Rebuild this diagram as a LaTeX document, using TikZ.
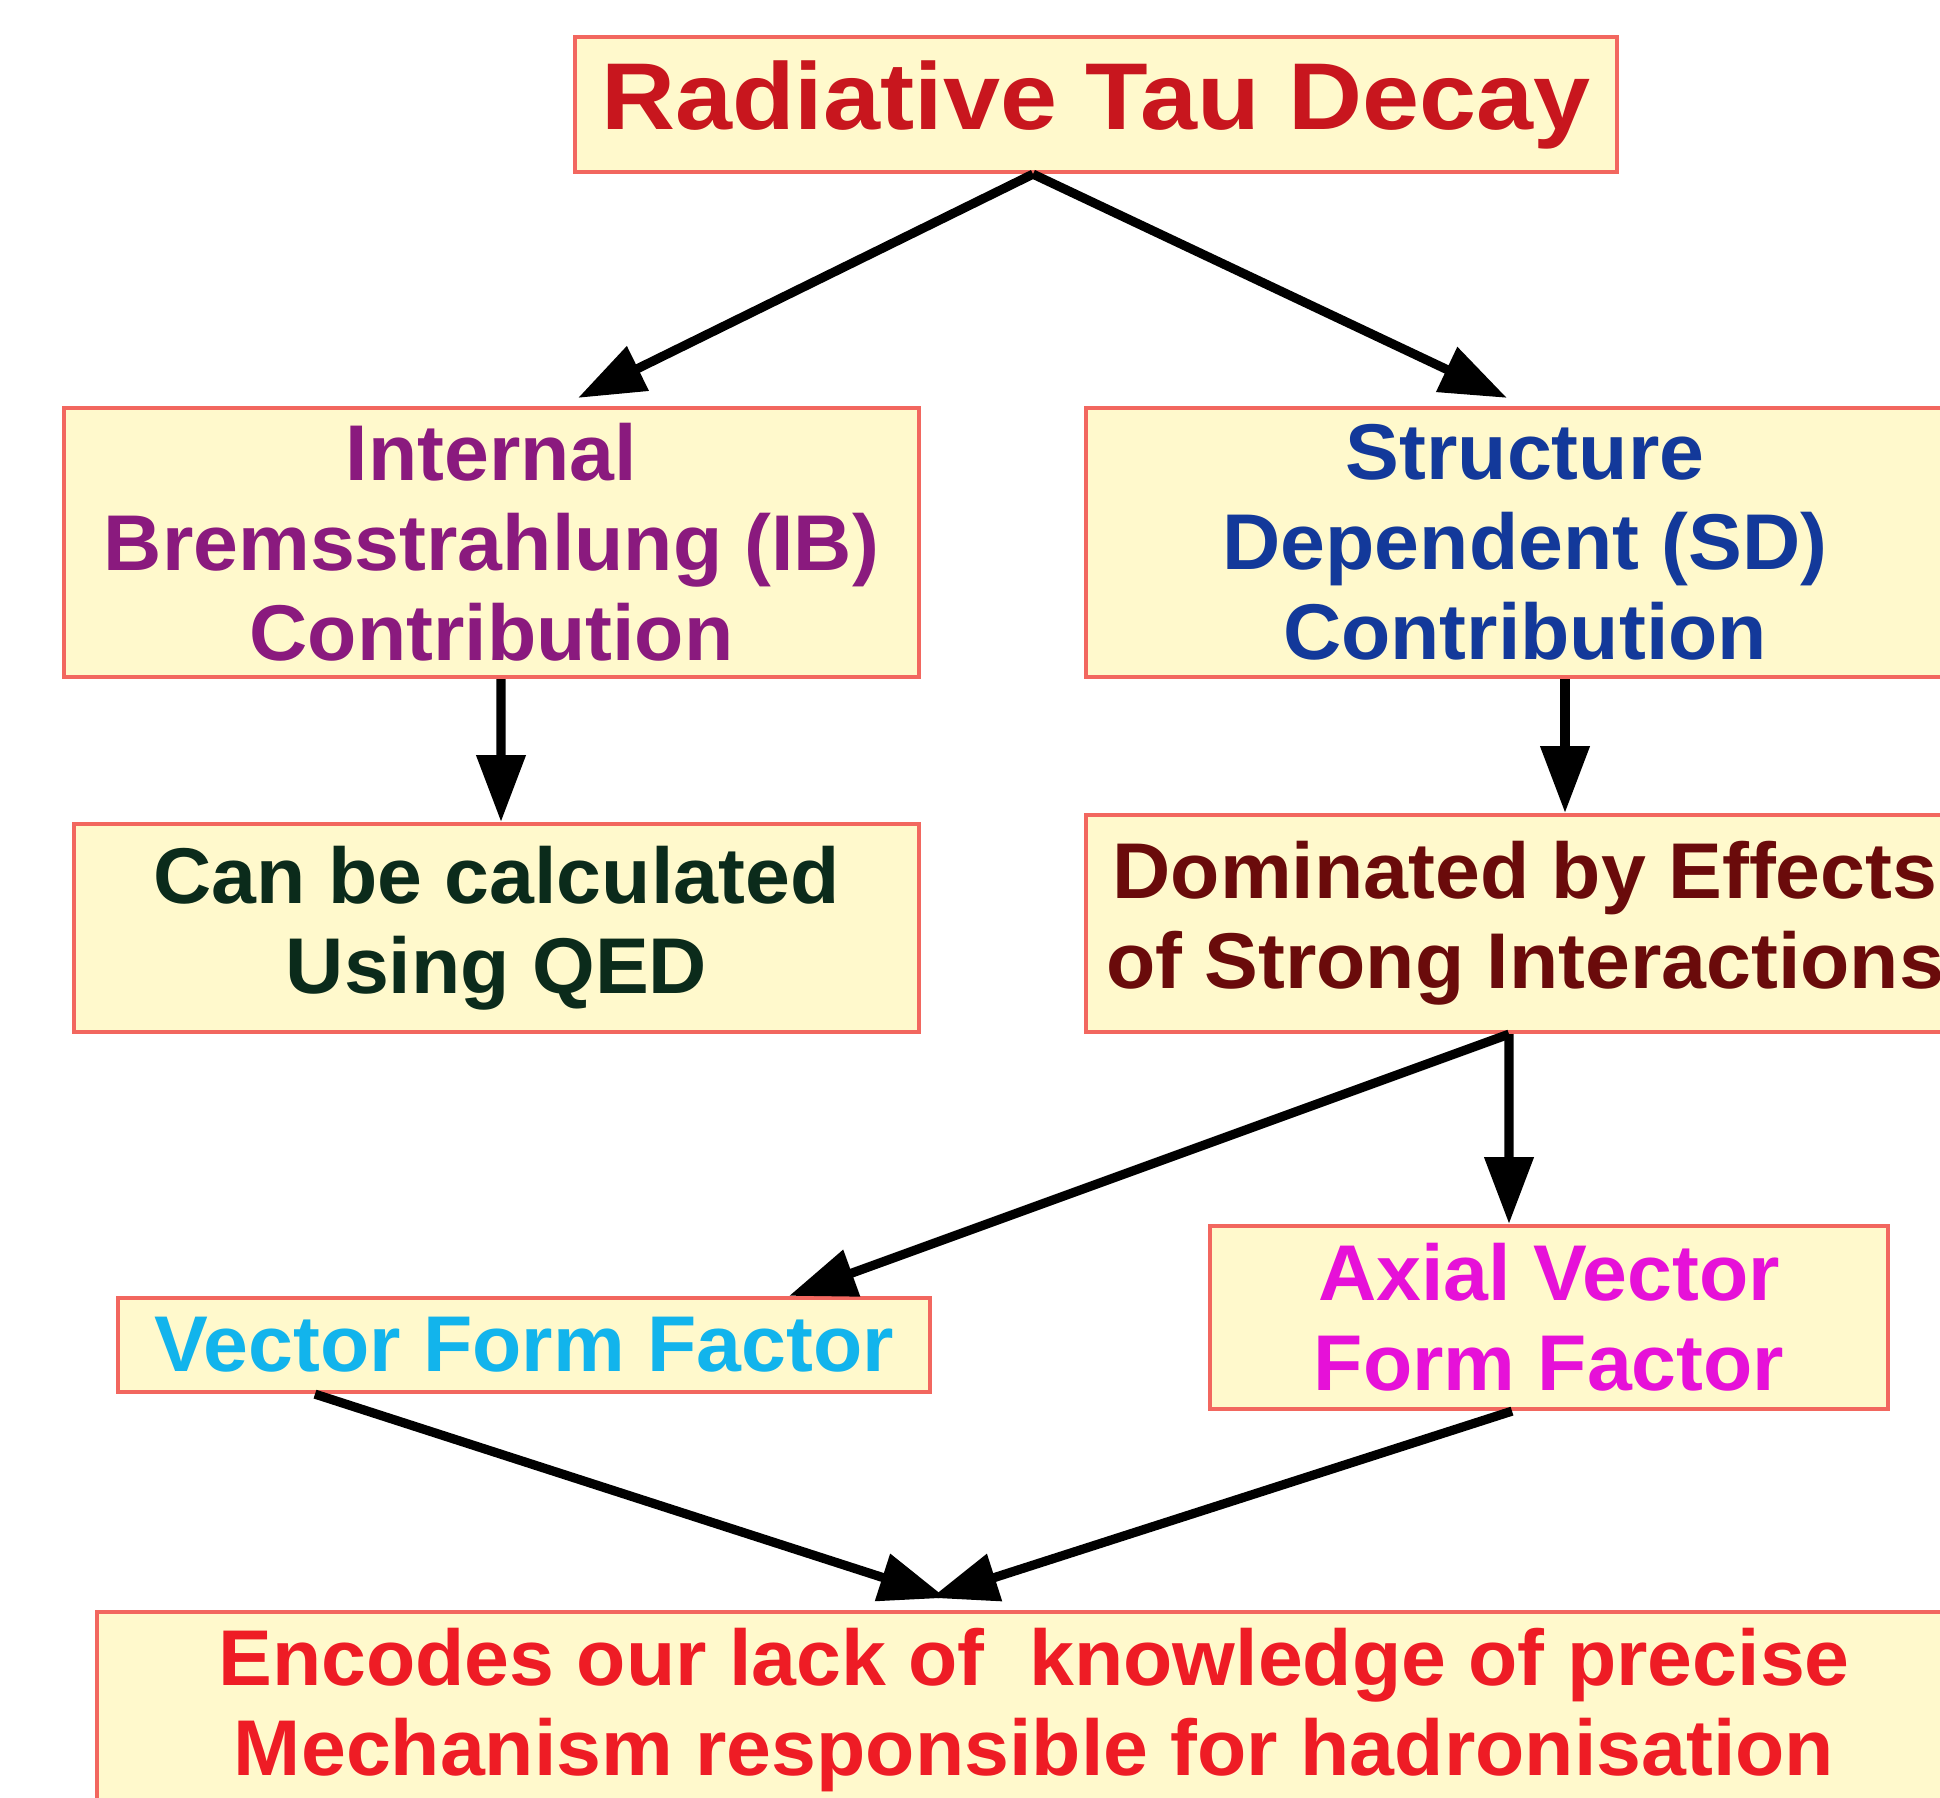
\documentclass[tikz,border=0pt]{standalone}
\usepackage{fontspec}
\setmainfont[FakeStretch=1.02]{Liberation Sans}
\newfontfamily\titlefont[FakeStretch=1.08]{Liberation Sans}
\usetikzlibrary{arrows.meta}

\definecolor{boxfill}{HTML}{FFF9CC}
\definecolor{boxline}{HTML}{F2675F}
\definecolor{titlered}{HTML}{C8161E}
\definecolor{ibpurple}{HTML}{8A1A7E}
\definecolor{sdblue}{HTML}{13399A}
\definecolor{qedgreen}{HTML}{0B2B1B}
\definecolor{strongred}{HTML}{6A0B0B}
\definecolor{vffcyan}{HTML}{12B4EC}
\definecolor{avffmagenta}{HTML}{E611D8}
\definecolor{encred}{HTML}{EE1C25}

\begin{document}
\begin{tikzpicture}[
  box/.style={draw=boxline, fill=boxfill, line width=1.2pt, inner sep=0pt, align=center,
    font={\bfseries\fontsize{22.5}{25.6}\selectfont}},
  flow/.style={line width=2.6pt, -{Triangle[length=19pt,width=13.5pt]}}
]
% page frame
\useasboundingbox (0,0) rectangle (19.40,-17.97);

% Title
\node[box, minimum width=10.42cm, minimum height=1.35cm, text=titlered,
  font={\titlefont\bfseries\fontsize{27}{30}\selectfont}] (tau) at (10.96,-1.045) {Radiative Tau Decay};

% Two contributions
\node[box, minimum width=8.55cm, minimum height=2.69cm, text=ibpurple] (ib) at (4.915,-5.425)
  {Internal\\Bremsstrahlung (IB)\\Contribution};
\node[box, minimum width=8.78cm, minimum height=2.69cm, text=sdblue] (sd) at (15.25,-5.425)
  {Structure\\Dependent (SD)\\Contribution};

% What follows from each
\node[box, minimum width=8.45cm, minimum height=2.08cm, text=qedgreen] (qed) at (4.965,-9.28)
  {Can be calculated\\Using QED};
\node[box, minimum width=8.78cm, minimum height=2.17cm, text=strongred] (strong) at (15.25,-9.235)
  {Dominated by Effects\\of Strong Interactions};

% Form factors
\node[box, minimum width=8.12cm, minimum height=0.94cm, text=vffcyan] (vff) at (5.24,-13.45)
  {Vector Form Factor};
\node[box, minimum width=6.78cm, minimum height=1.83cm, text=avffmagenta] (avff) at (15.49,-13.175)
  {Axial Vector\\Form Factor};

% Bottom line
\node[box, minimum width=18.74cm, minimum height=1.96cm, text=encred] (enc) at (10.34,-17.10)
  {Encodes our lack of\ \ knowledge of precise\\Mechanism responsible for hadronisation};

% Arrows
\draw[flow] ([xshift=-0.63cm]tau.south) -- ([xshift=0.865cm,yshift=0.08cm]ib.north);
\draw[flow] ([xshift=-0.63cm]tau.south) -- ([xshift=-0.18cm,yshift=0.08cm]sd.north);
\draw[flow] ([xshift=0.095cm]ib.south) -- ([xshift=0.045cm]qed.north);
\draw[flow] ([xshift=0.40cm]sd.south) -- ([xshift=0.40cm]strong.north);
\draw[flow] ([xshift=-0.16cm]strong.south) -- ([xshift=2.65cm]vff.north);
\draw[flow] ([xshift=-0.16cm]strong.south) -- ([xshift=-0.40cm]avff.north);
\draw[flow] ([xshift=-2.09cm]vff.south) -- ([xshift=-0.88cm,yshift=0.12cm]enc.north);
\draw[flow] ([xshift=-0.37cm]avff.south) -- ([xshift=-1.03cm,yshift=0.12cm]enc.north);
\end{tikzpicture}
\end{document}
